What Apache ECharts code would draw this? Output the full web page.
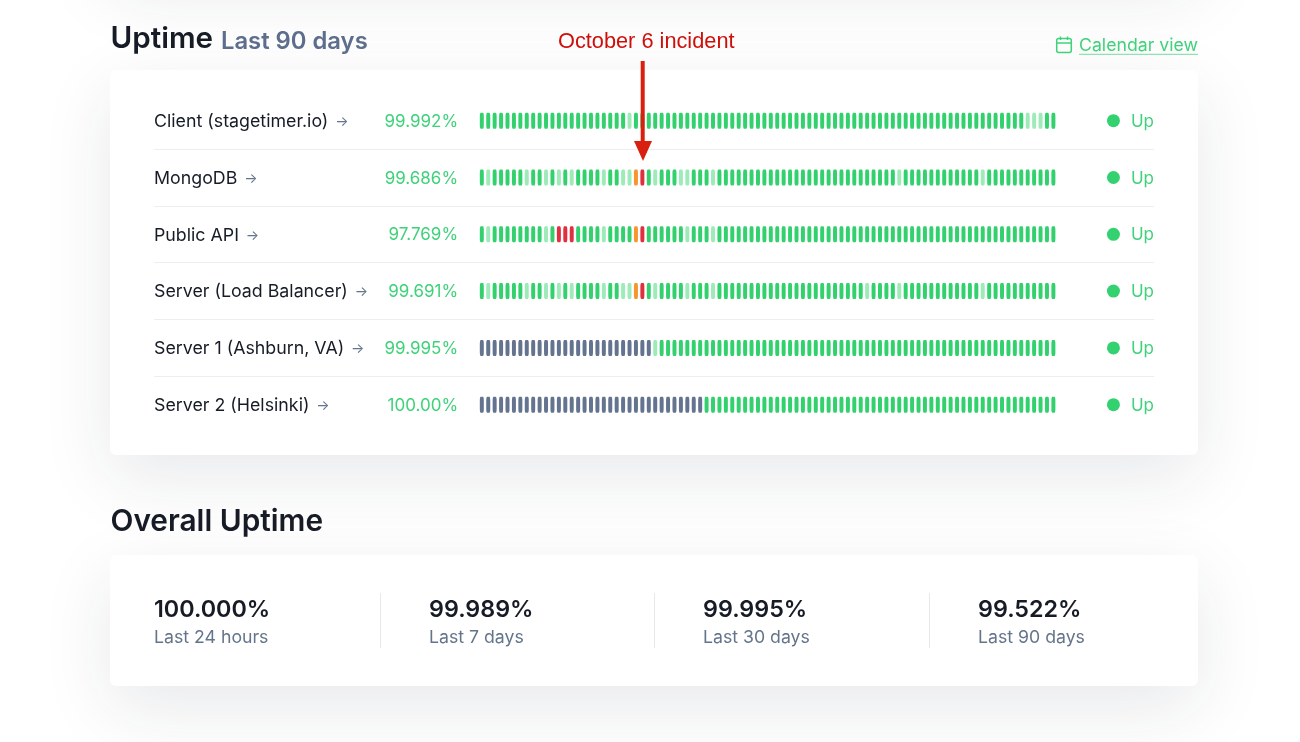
<!DOCTYPE html>
<html>
<head>
<meta charset="utf-8">
<title>Uptime</title>
<script src="https://cdn.jsdelivr.net/npm/echarts@6/dist/echarts.min.js"></script>
<style>
html,body{margin:0;padding:0;background:#fff}
#app{width:1300px;height:742px}
</style>
</head>
<body>
<div id="app"></div>
<script>
//services, top to bottom
let services = ['Client (stagetimer.io)', 'MongoDB', 'Public API', 'Server (Load Balancer)', 'Server 1 (Ashburn, VA)', 'Server 2 (Helsinki)']
let uptimes = ['99.992%', '99.686%', '97.769%', '99.691%', '99.995%', '100.00%']
let states = ['Up', 'Up', 'Up', 'Up', 'Up', 'Up']

//day status: 0 no data, 1 up, 2 minor, 3 partial, 4 major
let clientDays = [
    1,1,1,1,1,1,1,1,1,1, 1,1,1,1,1,1,1,1,1,1, 1,1,1,2,1,1,1,1,1,1,
    1,1,1,1,1,1,1,1,1,1, 1,1,1,1,1,1,1,1,1,1, 1,1,1,1,1,1,1,1,1,1,
    1,1,1,1,1,1,1,1,1,1, 1,1,1,1,1,1,1,1,1,1, 1,1,1,1,1,2,2,2,1,1
]
let mongoDays = [
    1,2,1,1,1,1,1,2,1,1, 2,1,2,1,2,1,1,1,1,2, 1,1,2,2,3,4,1,2,1,1,
    1,2,2,1,1,1,2,1,1,1, 1,1,1,1,1,1,1,1,1,1, 1,1,1,1,1,1,1,1,1,1,
    1,1,1,1,1,2,1,1,1,1, 1,1,1,1,1,1,1,1,2,1, 1,1,1,1,1,1,1,1,1,1
]
let apiDays = [
    1,2,1,1,1,1,1,1,1,1, 2,1,4,4,4,1,1,1,1,2, 1,1,1,1,3,4,1,1,1,1,
    1,1,2,1,1,1,2,1,1,1, 1,1,1,1,1,1,1,1,1,1, 1,1,1,1,1,1,1,1,1,1,
    1,1,1,1,1,1,1,1,1,1, 1,1,1,1,1,1,1,1,1,1, 1,1,1,1,1,1,1,1,1,1
]
let balancerDays = [
    1,2,1,1,1,1,1,2,1,1, 2,1,2,1,2,1,1,1,1,2, 1,1,2,2,3,4,1,2,1,1,
    1,1,2,1,1,1,2,1,1,1, 1,1,1,1,1,1,1,1,1,1, 1,1,1,1,1,1,1,1,1,1,
    2,1,1,1,1,2,1,1,1,1, 1,1,1,1,1,1,1,1,2,1, 1,1,1,1,1,1,1,1,1,1
]
let server1Days = [
    0,0,0,0,0,0,0,0,0,0, 0,0,0,0,0,0,0,0,0,0, 0,0,0,0,0,0,0,2,1,1,
    1,1,1,1,1,1,1,1,1,1, 1,1,1,1,1,1,1,1,1,1, 1,1,1,1,1,1,1,1,1,1,
    1,1,1,1,1,1,1,1,1,1, 1,1,1,1,1,1,1,1,1,1, 1,1,1,1,1,1,1,1,1,1
]
let server2Days = [
    0,0,0,0,0,0,0,0,0,0, 0,0,0,0,0,0,0,0,0,0, 0,0,0,0,0,0,0,0,0,0,
    0,0,0,0,0,1,1,1,1,1, 1,1,1,1,1,1,1,1,1,1, 1,1,1,1,1,1,1,1,1,1,
    1,1,1,1,1,1,1,1,1,1, 1,1,1,1,1,1,1,1,1,1, 1,1,1,1,1,1,1,1,1,1
]
let allDays = [clientDays, mongoDays, apiDays, balancerDays, server1Days, server2Days]

//overall numbers
let overallValues = ['100.000%', '99.989%', '99.995%', '99.522%']
let overallLabels = ['Last 24 hours', 'Last 7 days', 'Last 30 days', 'Last 90 days']

let statusColors = ['#64738f', '#32d16e', '#9eebb9', '#f7962e', '#e0303f']
let green = '#3fd27a'
let slate = '#64748b'
let dark = '#161b26'
let inter = 'Inter, sans-serif'

let dayNames = clientDays.map((d, i) => 'day' + (i + 1))

//flatten into [day, row, status]
let points = []
allDays.forEach((days, row) => {
    days.forEach((status, day) => {
        points.push([day, row, status])
    })
})

function text(str, x, y, font, fill){
    return {
        type:'text',
        z:5,
        style:{text:str, x:x, y:y, font:font, fill:fill, verticalAlign:'middle'}
    }
}

function card(x, y, w, h){
    return {
        type:'rect',
        z:-10,
        shape:{x:x, y:y, width:w, height:h, r:6},
        style:{fill:'#fff', shadowBlur:70, shadowOffsetY:22, shadowColor:'rgba(30,40,60,0.10)'}
    }
}

let graphics = [
    //card just above the visible page
    card(110, -300, 1088, 270),
    card(110, 70, 1088, 385),
    card(110, 555, 1088, 131),

    text('Uptime', 110.5, 39.5, '600 29.6px ' + inter, dark),
    text('Last 90 days', 221, 41.5, '600 23.8px ' + inter, '#5d6d8c'),
    text('Overall Uptime', 110.5, 522.5, '600 29.8px ' + inter, dark),

    //calendar link
    {type:'rect', z:5, shape:{x:1056.7, y:38.5, width:14.6, height:14, r:2}, style:{fill:'none', stroke:green, lineWidth:1.5}},
    {type:'line', z:5, shape:{x1:1056.7, y1:43, x2:1071.3, y2:43}, style:{stroke:green, lineWidth:1.5}},
    {type:'line', z:5, shape:{x1:1060.5, y1:36.5, x2:1060.5, y2:40}, style:{stroke:green, lineWidth:1.5}},
    {type:'line', z:5, shape:{x1:1067.5, y1:36.5, x2:1067.5, y2:40}, style:{stroke:green, lineWidth:1.5}},
    text('Calendar view', 1079, 46, '400 17.7px ' + inter, green),
    {type:'line', z:5, shape:{x1:1079, y1:54.3, x2:1198, y2:54.3}, style:{stroke:'#8fe3b0', lineWidth:1.2}},

    //annotation
    text('October 6 incident', 558, 41.5, '400 21.75px "Liberation Sans", Arial, sans-serif', '#cf0f0a'),
    {type:'line', z:20, shape:{x1:642.7, y1:61, x2:642.7, y2:142}, style:{stroke:'#d9200f', lineWidth:4}},
    {type:'polygon', z:20, shape:{points:[[634, 141], [652, 141], [643, 161]]}, style:{fill:'#d9200f'}}
]

//bottom stats
let statX = [154, 429, 703, 978]
overallValues.forEach((val, i) => {
    graphics.push(text(val, statX[i], 610, '600 23.3px ' + inter, dark))
    graphics.push(text(overallLabels[i], statX[i], 638, '400 17.7px ' + inter, slate))
    if(i > 0){
        graphics.push({
            type:'line',
            z:5,
            shape:{x1:statX[i] - 48.5, y1:593, x2:statX[i] - 48.5, y2:648},
            style:{stroke:'#e6e8ec', lineWidth:1}
        })
    }
})

let myChart = echarts.init(document.getElementById('app'), null, {renderer:'canvas'})
let rowTop = 92.3
let rowsHeight = 340.8

let option = {
    animation:false,
    backgroundColor:'#fff',
    graphic:{elements:graphics},
    grid:[
        //status bars
        {left:478.6, top:rowTop, width:578, height:rowsHeight},
        //full width rows, separators and names
        {left:154, top:rowTop, width:1000, height:rowsHeight}
    ],
    xAxis:[
        {type:'category', gridIndex:0, data:dayNames, show:false},
        {type:'value', gridIndex:1, show:false}
    ],
    yAxis:[
        {
            //uptime percent next to the bars
            type:'category',
            gridIndex:0,
            inverse:true,
            data:uptimes,
            axisLine:{show:false},
            axisTick:{show:false},
            axisLabel:{
                margin:20.5,
                formatter:val => '{pct|' + val + '}',
                padding:[2, 0, 0, 0],
                rich:{
                    pct:{fontFamily:'Inter', fontSize:17, color:green}
                }
            }
        },
        {
            type:'category',
            gridIndex:1,
            inverse:true,
            data:services,
            axisLine:{show:false},
            axisTick:{show:false},
            splitLine:{show:true, showMinLine:false, showMaxLine:false, lineStyle:{color:'#eceef1', width:1}},
            axisLabel:{
                inside:true,
                margin:0,
                align:'left',
                padding:[2, 0, 0, 0],
                formatter:val => '{name|' + val + '}{arrow| →}',
                rich:{
                    name:{fontFamily:'Inter', fontSize:17.8, color:dark},
                    arrow:{fontFamily:'Inter', fontSize:14, color:slate, padding:[0, 0, 0, 3]}
                }
            }
        },
        {
            type:'category',
            gridIndex:1,
            position:'right',
            inverse:true,
            data:states,
            axisLine:{show:false},
            axisTick:{show:false},
            axisLabel:{
                inside:true,
                margin:0,
                align:'right',
                formatter:val => '{dot|}{state|' + val + '}',
                rich:{
                    dot:{width:13, height:13, borderRadius:7, backgroundColor:'#34d171'},
                    state:{fontFamily:'Inter', fontSize:17, color:green, padding:[2, 0, 0, 11]}
                }
            }
        }
    ],
    series:[
        {
            type:'scatter',
            xAxisIndex:0,
            yAxisIndex:0,
            data:points,
            symbol:'roundRect',
            symbolSize:[4, 16],
            itemStyle:{
                opacity:1,
                color:params => statusColors[params.data[2]]
            },
            silent:true
        }
    ]
}
myChart.setOption(option)
</script>
</body>
</html>
